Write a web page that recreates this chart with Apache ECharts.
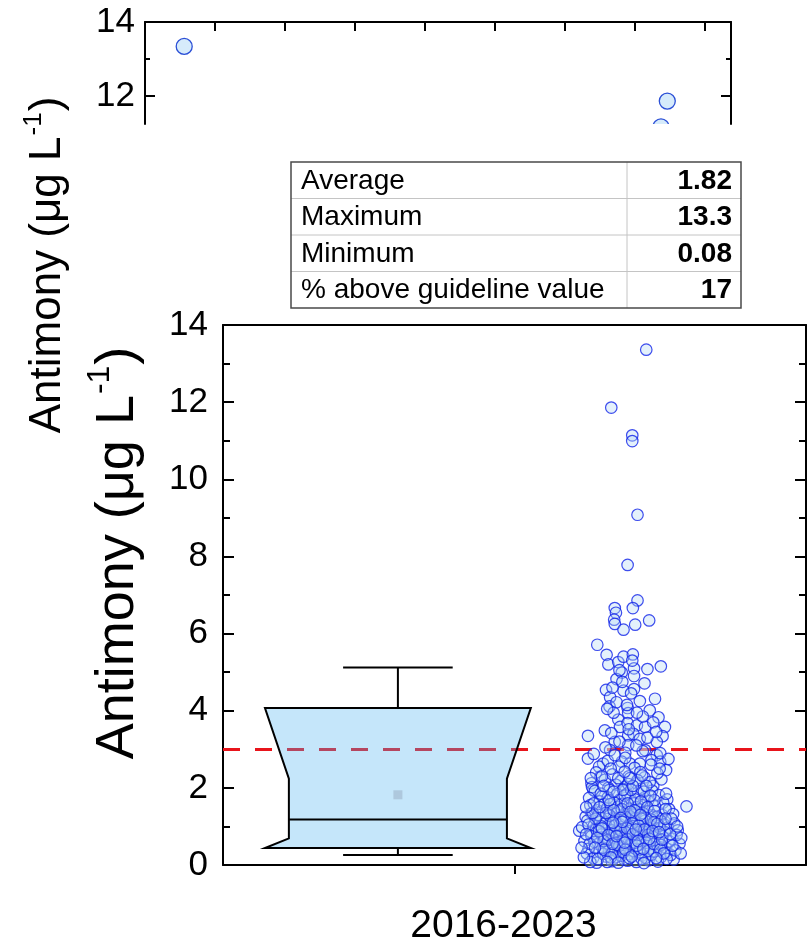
<!DOCTYPE html>
<html><head><meta charset="utf-8">
<script src="https://cdn.jsdelivr.net/npm/echarts@6/dist/echarts.min.js"></script>
<style>html,body{margin:0;padding:0;background:#fff}#c{width:810px;height:946px}</style>
</head><body><div id="c"></div>
<script>
// ---------------- DATA ----------------
const categoryLabel = '2016-2023';
const axisTitleMain = 'Antimony (μg L';
const axisTitleSup = '-1';
const boxStats = [0.26, 0.44, 1.18, 4.07, 5.12];   // whisker low, Q1, median, Q3, whisker high
const notchRange = [0.69, 2.24];
const meanValue = 1.82;
const guidelineValue = 3;
const tableLabels = ['Average', 'Maximum', 'Minimum', '% above guideline value'];
const tableValues = ['1.82', '13.3', '0.08', '17'];
// cropped upper panel (jitter position, value)
const topPanelPoints = [[0.56, 13.34], [7.46, 11.86], [7.37, 11.16]];
// individual samples: [jitter position, value]
const sampleUpper = [
[72.6,13.36],[66.6,11.86],[70.2,11.14],[70.2,10.99],
[71.1,9.08],[69.4,7.78],[71.1,6.86],[70.3,6.66],[67.2,6.66],[67.4,6.54],[67.1,6.36],[67.2,6.25],[68.7,6.10],[70.7,6.23],[73.1,6.34],
[64.2,5.71],[65.8,5.45],[66.1,5.20],[67.8,5.26],[68.7,5.40],[70.3,5.46],[70.5,5.10],[72.8,5.08],[75.1,5.15],[68.4,4.99],[67.5,4.82],[70.5,4.90],[72.3,4.71],[65.7,4.54],[66.4,4.35],[68.7,4.52],[70.5,4.56],[74.1,4.31],[66.3,4.11],[67.5,4.22],[69.4,4.07],[69.5,3.94],[73.2,4.01],[67.8,3.77],[65.5,3.49],[62.6,3.35],[68.1,3.58],[69.4,3.68],[71.0,3.62],[72.4,3.58],[74.7,3.83],[75.8,3.58],[75.4,3.34],[74.4,3.19],[69.5,3.36],[70.4,3.40],[71.5,3.27],[67.2,3.19],[69.5,3.11],[72.4,2.98],[66.4,2.98],[62.6,2.76],[69.0,2.91],[74.4,2.85],[68.4,2.68],[65.2,2.63],[69.8,2.63],[71.5,2.63],[73.5,2.72],[75.0,2.68],[76.0,2.46],[67.9,2.55],[64.7,2.29],[63.2,2.12],[79.5,1.52],[61.1,0.89],[63.5,1.95],[63.2,1.34],
[66.8,4.60],[68.5,4.75],[70.0,4.45],[67.0,3.95],[69.3,4.15],[71.5,4.25],[72.0,3.85],[68.0,5.05],[70.2,5.30],[73.8,3.70],[65.9,4.05],[71.0,3.95],
[64.5,2.55],[66.0,2.70],[67.2,2.85],[69.0,2.78],[70.6,2.52],[72.0,2.95],[73.4,2.60],[75.0,2.90],[65.6,3.05],[68.0,3.20],[70.9,3.10],[72.8,3.30],[74.3,3.45],[66.6,3.42],[69.6,3.52],[63.6,2.88],[76.4,2.75]
];
const sampleCore = [
[64.0,2.40],[65.5,2.21],[66.8,2.35],[68.2,2.18],[69.6,2.30],[70.9,2.12],[72.3,2.27],[73.8,2.05],[75.2,2.22],[63.3,2.02],[67.4,2.08],[71.6,2.41],[74.5,2.38],[69.0,2.03],[66.1,2.00],
[63.8,1.92],[65.0,1.78],[66.3,1.95],[67.6,1.84],[68.7,1.97],[69.9,1.72],[71.2,1.88],[72.4,1.76],[73.6,1.93],[74.8,1.81],[76.2,1.70],[64.6,1.65],[67.0,1.62],[68.1,1.70],[70.5,1.60],[72.9,1.66],[75.5,1.62],[62.8,1.74],[69.3,1.85],[71.8,1.98],
[63.0,1.55],[64.2,1.42],[65.4,1.58],[66.5,1.35],[67.7,1.50],[68.8,1.28],[69.7,1.46],[70.8,1.33],[71.9,1.55],[73.0,1.40],[74.1,1.52],[75.3,1.30],[76.5,1.45],[62.2,1.25],[64.8,1.22],[66.9,1.20],[68.3,1.57],[70.1,1.23],[72.5,1.24],[74.7,1.21],[77.2,1.32],[65.9,1.48],[69.2,1.38],[71.3,1.45],[73.6,1.29],
[62.5,1.15],[63.6,1.02],[64.7,1.12],[65.8,0.95],[66.8,1.08],[67.9,0.88],[68.9,1.15],[70.0,0.98],[71.0,1.10],[72.1,0.86],[73.1,1.05],[74.2,0.92],[75.2,1.13],[76.3,0.97],[77.4,1.08],[63.1,0.84],[65.2,0.82],[67.3,1.18],[69.4,0.83],[71.6,0.94],[73.7,0.81],[75.8,0.85],[64.0,0.93],[66.2,1.04],[68.4,0.99],[70.6,1.19],[72.7,1.00],[74.8,1.02],[78.0,0.90],[61.6,0.98],
[62.0,0.62],[63.2,0.75],[64.3,0.55],[65.4,0.70],[66.4,0.48],[67.5,0.66],[68.5,0.52],[69.6,0.77],[70.6,0.45],[71.7,0.63],[72.8,0.50],[73.8,0.72],[74.9,0.58],[76.0,0.44],[77.1,0.68],[78.3,0.55],[62.7,0.42],[64.9,0.79],[67.0,0.41],[69.1,0.60],[71.2,0.78],[73.3,0.43],[75.4,0.74],[63.7,0.60],[65.9,0.56],[68.0,0.74],[70.1,0.62],[72.3,0.70],[74.4,0.47],[76.6,0.61],[66.9,0.71],[69.9,0.50],
[62.4,0.30],[63.5,0.18],[64.6,0.35],[65.7,0.22],[66.7,0.10],[67.8,0.32],[68.8,0.15],[69.8,0.28],[70.9,0.08],[71.9,0.25],[73.0,0.12],[74.0,0.36],[75.1,0.20],[76.2,0.31],[77.3,0.14],[64.1,0.06],[66.2,0.38],[68.3,0.24],[70.4,0.37],[72.5,0.19],[74.6,0.09],[76.8,0.26],[65.2,0.29],[67.3,0.20],[69.4,0.11],[71.4,0.33],[73.5,0.27],[63.0,0.08],
[64.4,1.30],[65.6,1.10],[66.6,0.90],[67.7,1.40],[68.6,0.70],[69.5,1.00],[70.4,1.30],[71.4,0.85],[72.4,1.15],[73.4,0.62],[74.4,1.25],[65.1,0.45],[66.0,0.65],[67.2,0.85],[68.1,1.05],[69.0,1.25],[70.0,0.55],[71.0,0.70],[72.0,1.35],[73.2,0.95],[74.2,0.75],[75.0,0.95],[64.9,1.00],[66.3,1.28],[67.4,0.58],[68.7,0.45],[69.8,0.88],[70.9,1.50],[71.8,1.20],[72.9,0.78],[73.9,1.10],[75.7,1.05],[63.9,1.20],[65.3,0.62],[66.7,0.30],[68.0,0.50],[69.2,0.68],[70.2,1.08],[71.5,0.40],[72.6,0.58],[73.9,0.35],[75.1,0.52],[64.5,0.88],[67.1,1.62],[68.9,1.80],[70.7,1.70],[66.0,1.75],[72.2,1.90],[69.5,2.10],[67.8,2.25],[71.1,2.20],[73.2,2.15],[65.0,2.30],[70.0,1.95],[68.4,1.45],[66.4,1.58],[74.0,1.68],[75.9,1.45],[63.4,1.35],[62.9,0.55],[77.8,0.78],[76.9,1.20],[77.6,0.38],[61.9,0.20],[78.5,0.30],[61.5,0.45]
];
const sampleDense = [
[64.3,0.15],[65.4,0.40],[66.5,0.20],[67.6,0.52],[68.7,0.33],[69.7,0.18],[70.7,0.58],[71.8,0.16],[72.9,0.36],[73.9,0.55],[75.0,0.40],[76.1,0.16],[65.0,0.95],[66.1,0.78],[67.2,1.02],[68.2,0.90],[69.3,0.95],[70.3,0.80],[71.3,1.02],[72.3,0.92],[73.4,1.18],[74.5,1.07],[64.2,0.70],[66.8,0.55],[69.0,0.40],[71.0,0.50],[73.1,0.68],[75.3,0.66],[65.7,1.35],[67.0,1.42],[68.2,1.22],[69.4,1.60],[70.6,1.42],[71.7,1.65],[72.8,1.50],[74.0,1.40],[66.2,1.68],[68.6,1.95],[70.3,2.05],[72.6,2.05],[67.0,1.90],[69.8,2.25],[71.9,2.32],[68.9,2.42],[66.5,2.50],[64.8,1.85],[63.6,1.60],[62.7,1.05],[63.8,0.45],[76.0,1.85],[76.7,0.80],[75.6,0.30],[77.1,0.50],[62.3,0.80],[67.8,0.06],[70.1,0.22],[72.2,0.05],[74.3,0.18],[65.9,0.08],[68.5,1.12],[70.8,0.92],[69.9,1.38],[67.5,0.75],[71.6,1.30],[73.7,0.88],[64.6,1.50],[66.9,1.10],[68.9,0.58],[71.2,0.62],[72.1,0.42],[74.8,0.85],[75.9,1.20],[73.3,1.80],[65.3,2.05],[63.1,2.25],[74.9,2.50],[62.3,1.50],[77.9,1.00],[78.6,0.70]
];

// ---------------- LAYOUT / STYLE ----------------
const FONT = '"Liberation Sans", Arial, Helvetica, sans-serif';
const boxCenter = 30, boxHalf = 22.8, notchHalf = 18.7, capHalf = 9.4;
const black = '#000';

function measure(text, px, weight) {
  const ctx = document.createElement('canvas').getContext('2d');
  ctx.font = (weight || 'normal') + ' ' + px + 'px ' + FONT;
  return ctx.measureText(text).width;
}
function rotatedTitle(cx, cy, size) {
  const supSize = Math.round(size * 0.6);
  const w1 = measure(axisTitleMain, size);
  const w2 = measure(axisTitleSup, supSize);
  const w3 = measure(')', size);
  const total = w1 + w2 + w3 + 2;
  const x0 = -total / 2;
  return {
    type: 'group', x: cx, y: cy, rotation: Math.PI / 2, z: 100,
    children: [
      {type: 'text', x: x0, y: 0, style: {text: axisTitleMain, font: size + 'px ' + FONT, fill: black, align: 'left', verticalAlign: 'middle'}},
      {type: 'text', x: x0 + w1 + 1, y: -size * 0.33, style: {text: axisTitleSup, font: supSize + 'px ' + FONT, fill: black, align: 'left', verticalAlign: 'middle'}},
      {type: 'text', x: x0 + w1 + w2 + 2, y: 0, style: {text: ')', font: size + 'px ' + FONT, fill: black, align: 'left', verticalAlign: 'middle'}}
    ]
  };
}
function statsTable() {
  const L = 291, T = 162, W = 450, rowH = 36.5, divX = 627;
  const ch = [];
  for (let i = 1; i < tableLabels.length; i++) {
    ch.push({type: 'line', shape: {x1: L, y1: T + i * rowH, x2: L + W, y2: T + i * rowH}, style: {stroke: '#c4c4c4', lineWidth: 1}});
  }
  ch.push({type: 'line', shape: {x1: divX, y1: T, x2: divX, y2: T + rowH * tableLabels.length}, style: {stroke: '#c4c4c4', lineWidth: 1}});
  ch.push({type: 'rect', shape: {x: L, y: T, width: W, height: rowH * tableLabels.length}, style: {fill: 'none', stroke: '#4a4a4a', lineWidth: 1.5}});
  tableLabels.forEach((t, i) => {
    ch.push({type: 'text', x: L + 10, y: T + rowH * (i + 0.5) + 1, style: {text: t, font: '28px ' + FONT, fill: black, align: 'left', verticalAlign: 'middle'}});
    ch.push({type: 'text', x: L + W - 9, y: T + rowH * (i + 0.5) + 1, style: {text: tableValues[i], font: 'bold 28px ' + FONT, fill: black, align: 'right', verticalAlign: 'middle'}});
  });
  return {type: 'group', z: 100, children: ch};
}

const axisLineStyle = {color: black, width: 2};
const tickStyle = {color: black, width: 2};
const labelStyle = {fontFamily: FONT, fontSize: 35, color: black};

const option = {
  animation: false,
  backgroundColor: '#fff',
  grid: [
    {left: 223, top: 325, width: 583, height: 544},
    {left: 145, top: 22, width: 586, height: 102}
  ],
  xAxis: [
    {gridIndex: 0, type: 'value', min: 0, max: 100, position: 'bottom',
     axisLine: {show: true, onZero: false, lineStyle: axisLineStyle},
     axisTick: {show: true, inside: false, length: 9, customValues: [50], lineStyle: tickStyle},
     axisLabel: {show: true, customValues: [50], formatter: () => categoryLabel, fontFamily: FONT, fontSize: 39, color: black, margin: 42, padding: [0, 22, 0, 0]},
     splitLine: {show: false}},
    {gridIndex: 0, type: 'value', min: 0, max: 100, position: 'top',
     axisLine: {show: true, onZero: false, lineStyle: axisLineStyle},
     axisTick: {show: false}, axisLabel: {show: false}, splitLine: {show: false}},
    {gridIndex: 1, type: 'value', min: 0, max: 8.37, position: 'top',
     axisLine: {show: true, onZero: false, lineStyle: axisLineStyle},
     axisTick: {show: true, inside: true, length: 9, customValues: [1, 2, 3, 4, 5, 6, 7, 8], lineStyle: tickStyle},
     axisLabel: {show: false}, splitLine: {show: false}}
  ],
  yAxis: [
    {gridIndex: 0, type: 'value', min: 0, max: 14, interval: 2, position: 'left',
     axisLine: {show: true, onZero: false, lineStyle: axisLineStyle},
     axisTick: {show: true, inside: true, length: 11, lineStyle: tickStyle},
     minorTick: {show: true, splitNumber: 2, length: 7, lineStyle: tickStyle},
     axisLabel: Object.assign({margin: 15}, labelStyle), splitLine: {show: false}},
    {gridIndex: 0, type: 'value', min: 0, max: 14, interval: 2, position: 'right',
     axisLine: {show: true, onZero: false, lineStyle: axisLineStyle},
     axisTick: {show: true, inside: true, length: 11, lineStyle: tickStyle},
     minorTick: {show: true, splitNumber: 2, length: 7, lineStyle: tickStyle},
     axisLabel: {show: false}, splitLine: {show: false}},
    {gridIndex: 1, type: 'value', min: 11.24, max: 14, position: 'left',
     axisLine: {show: true, onZero: false, lineStyle: axisLineStyle},
     axisTick: {show: true, inside: true, length: 10, customValues: [12, 14], lineStyle: tickStyle},
     axisLabel: Object.assign({margin: 10, customValues: [12, 14]}, labelStyle), splitLine: {show: false}},
    {gridIndex: 1, type: 'value', min: 11.24, max: 14, position: 'right',
     axisLine: {show: true, onZero: false, lineStyle: axisLineStyle},
     axisTick: {show: true, inside: true, length: 10, customValues: [12, 14], lineStyle: tickStyle},
     axisLabel: {show: false}, splitLine: {show: false}},
    {gridIndex: 1, type: 'value', min: 11.24, max: 14, position: 'left',
     axisLine: {show: false}, axisTick: {show: true, inside: true, length: 5, customValues: [13], lineStyle: tickStyle},
     axisLabel: {show: false}, splitLine: {show: false}},
    {gridIndex: 1, type: 'value', min: 11.24, max: 14, position: 'right',
     axisLine: {show: false}, axisTick: {show: true, inside: true, length: 5, customValues: [13], lineStyle: tickStyle},
     axisLabel: {show: false}, splitLine: {show: false}}
  ],
  series: [
    {type: 'custom', name: 'box', xAxisIndex: 0, yAxisIndex: 0, z: 6,
     data: [[boxCenter, boxStats[2]]],
     renderItem: function (params, api) {
       const [lo, q1, med, q3, hi] = boxStats;
       const c = boxCenter;
       const P = (x, y) => api.coord([x, y]);
       const poly = [P(c - boxHalf, q3), P(c + boxHalf, q3), P(c + notchHalf, notchRange[1]), P(c + notchHalf, notchRange[0]),
                     P(c + boxHalf, q1), P(c - boxHalf, q1), P(c - notchHalf, notchRange[0]), P(c - notchHalf, notchRange[1])];
       const seg = (a, b) => ({type: 'line', shape: {x1: a[0], y1: a[1], x2: b[0], y2: b[1]}, style: {stroke: black, lineWidth: 2}});
       return {type: 'group', children: [
         {type: 'polygon', shape: {points: poly}, style: {fill: 'rgba(74,177,239,0.32)', stroke: black, lineWidth: 2}},
         seg(P(c - notchHalf, med), P(c + notchHalf, med)),
         seg(P(c, q3), P(c, hi)), seg(P(c - capHalf, hi), P(c + capHalf, hi)),
         seg(P(c, q1), P(c, lo)), seg(P(c - capHalf, lo), P(c + capHalf, lo))
       ]};
     }},
    {type: 'scatter', name: 'guideline', xAxisIndex: 0, yAxisIndex: 0, data: [], z: 5,
     markLine: {silent: true, symbol: 'none', z: 5, label: {show: false},
       lineStyle: {color: '#e8141b', width: 3, type: [17, 15]},
       data: [{yAxis: guidelineValue}]}},
    {type: 'scatter', name: 'samples', xAxisIndex: 0, yAxisIndex: 0, z: 7,
     symbol: 'circle', symbolSize: 11.5,
     itemStyle: {color: 'rgba(180,215,243,0.45)', borderColor: '#0f22e8', borderWidth: 1.2},
     data: sampleUpper.concat(sampleCore, sampleDense)},
    {type: 'scatter', name: 'mean', xAxisIndex: 0, yAxisIndex: 0, z: 8,
     symbol: 'rect', symbolSize: 9, itemStyle: {color: '#a8c1d6'},
     data: [[boxCenter, meanValue]]},
    {type: 'custom', name: 'top', xAxisIndex: 2, yAxisIndex: 2, clip: true, z: 7,
     data: topPanelPoints,
     renderItem: function (params, api) {
       const p = api.coord([api.value(0), api.value(1)]);
       return {type: 'circle', shape: {cx: p[0], cy: p[1], r: 8}, style: {fill: '#d6ebfb', stroke: '#2b4fd6', lineWidth: 1.3}};
     }}
  ],
  graphic: [
    statsTable(),
    rotatedTitle(48, 265, 44),
    rotatedTitle(118, 553, 54)
  ]
};
const chart = echarts.init(document.getElementById('c'), null, {renderer: 'canvas'});
chart.setOption(option);
</script></body></html>
